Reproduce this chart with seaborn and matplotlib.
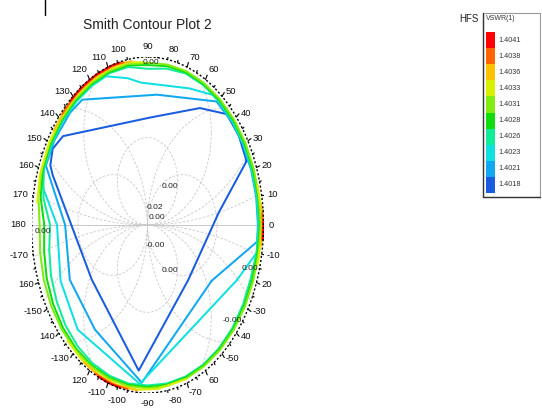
import numpy as np
import pandas as pd
import matplotlib
matplotlib.use("Agg")
import matplotlib.pyplot as plt
from matplotlib.patches import Rectangle
from matplotlib.lines import Line2D
import seaborn as sns

sns.set_theme(style="white")
plt.rcParams["font.family"] = ["Liberation Sans", "DejaVu Sans"]

# ---------------- data ----------------
title = "Smith Contour Plot 2"
legend_title = "VSWR(1)"
brand = "HFS"
level_labels = ["1.4018", "1.4021", "1.4023", "1.4026", "1.4028",
                "1.4031", "1.4033", "1.4036", "1.4038", "1.4041"]
level_colors = ["#1a5ce0", "#10a8f0", "#10e0e0", "#10ec98", "#10dc10",
                "#80ec10", "#d8f000", "#ffc000", "#ff6400", "#ff0000"]

angle_ticks = [0, 10, 20, 30, 40, 50, 60, 70, 80, 90, 100, 110, 120, 130, 140, 150, 160, 170, 180,
               -170, -160, -150, -140, -130, -120, -110, -100, -90, -80, -70, -60, -50, -40, -30, -20, -10]
angle_tick_labels = ["0", "10", "20", "30", "40", "50", "60", "70", "80", "90", "100", "110", "120",
                     "130", "140", "150", "160", "170", "180", "-170", "160", "-150", "140", "-130",
                     "120", "-110", "-100", "-90", "-80", "-70", "60", "-50", "40", "-30", "20", "-10"]

grid_label_text = ["0.00", "0.00", "0.02", "0.00", "-0.00", "0.00", "0.00", "0.00", "-0.00"]
grid_label_re = [0.03, 0.19, 0.065, 0.08, 0.065, 0.19, -0.90, 0.88, 0.73]
grid_label_im = [0.97, 0.23, 0.105, 0.045, -0.12, -0.27, -0.04, -0.26, -0.57]

# contour vertices: angle of reflection coefficient (deg) and magnitude
ring_ang = [0, 10, 20, 30, 40, 50, 60, 70, 80, 90, 100, 110, 120, 130, 140, 150, 160, 170, 180,
            190, 200, 210, 220, 230, 240, 250, 260, 270, 280, 290, 300, 310, 320, 330, 340, 350, 360]

c4018_ang = [24, 34, 44, 57, 88, 144, 151, 157, 160, -146, -95, -43, 7, 24]
c4018_mag = [0.935, 0.95, 0.95, 0.83, 0.64, 0.90, 0.935, 0.91, 0.87, 0.58, 0.87, 0.48, 0.62, 0.935]

c4021_ang = [-31, -6, 0, 10, 20, 30, 40, 51, 84, 127, 135, 148, 158, 180, -154, -126, -93, -31]
c4021_mag = [0.645, 0.95, 0.952, 0.952, 0.952, 0.952, 0.952, 0.946, 0.78, 0.934, 0.945, 0.948,
             0.945, 0.71, 0.745, 0.77, 0.94, 0.645]

c4023_ang = [-23, -10, 0, 10, 20, 30, 40, 50, 54, 66, 94, 101, 112, 120, 130, 140, 150, 160, 166,
             180, -156, -134, -94, -23]
c4023_mag = [0.838, 0.955, 0.957, 0.957, 0.957, 0.957, 0.957, 0.957, 0.957, 0.89, 0.85, 0.89, 0.955,
             0.957, 0.957, 0.957, 0.955, 0.95, 0.93, 0.78, 0.82, 0.866, 0.948, 0.838]

c4026_mag = [0.962, 0.962, 0.96, 0.962, 0.962, 0.962, 0.962, 0.96, 0.945, 0.93, 0.955, 0.962, 0.962,
             0.962, 0.962, 0.96, 0.955, 0.91, 0.84, 0.86, 0.885, 0.905, 0.925, 0.94, 0.95, 0.955,
             0.958, 0.955, 0.958, 0.96, 0.96, 0.958, 0.955, 0.95, 0.945, 0.955, 0.962]
c4028_mag = [0.97, 0.97, 0.968, 0.968, 0.968, 0.968, 0.968, 0.968, 0.96, 0.952, 0.965, 0.968, 0.968,
             0.968, 0.968, 0.966, 0.962, 0.935, 0.89, 0.905, 0.925, 0.94, 0.952, 0.96, 0.964, 0.966,
             0.966, 0.965, 0.966, 0.966, 0.966, 0.965, 0.964, 0.962, 0.96, 0.964, 0.97]
c4031_mag = [0.977, 0.976, 0.975, 0.975, 0.975, 0.975, 0.975, 0.975, 0.97, 0.965, 0.973, 0.975, 0.975,
             0.975, 0.975, 0.974, 0.97, 0.955, 0.93, 0.94, 0.952, 0.96, 0.966, 0.97, 0.972, 0.973,
             0.973, 0.972, 0.973, 0.973, 0.972, 0.972, 0.971, 0.97, 0.97, 0.972, 0.977]

c4033_segs = [([172, 162, 150, 140, 130, 120, 110, 100, 92],
               [0.96, 0.975, 0.98, 0.983, 0.985, 0.985, 0.986, 0.983, 0.97]),
              ([14, 5, 0, -5, -14], [0.978, 0.985, 0.987, 0.985, 0.978]),
              ([-70, -85, -95, -105, -115, -125, -135],
               [0.976, 0.98, 0.984, 0.986, 0.985, 0.982, 0.975])]
c4036_segs = [([145, 135, 125, 115, 105, 98], [0.984, 0.989, 0.99, 0.991, 0.99, 0.985]),
              ([7, 0, -7], [0.988, 0.991, 0.988]),
              ([-95, -105, -115, -124], [0.988, 0.99, 0.99, 0.986])]
c4038_segs = [([138, 128, 118, 108, 102], [0.99, 0.994, 0.995, 0.995, 0.991]),
              ([4, 0, -5], [0.993, 0.995, 0.993]),
              ([-100, -108, -117], [0.992, 0.995, 0.993])]
c4041_segs = [([132, 124, 116, 108, 104], [0.995, 0.998, 0.999, 0.998, 0.996]),
              ([1, -2, -5], [0.997, 0.999, 0.997]),
              ([-104, -110, -115], [0.997, 0.999, 0.997])]

contours = {
    "1.4018": [(c4018_ang, c4018_mag)],
    "1.4021": [(c4021_ang, c4021_mag)],
    "1.4023": [(c4023_ang, c4023_mag)],
    "1.4026": [(ring_ang, c4026_mag)],
    "1.4028": [(ring_ang, c4028_mag)],
    "1.4031": [(ring_ang, c4031_mag)],
    "1.4033": c4033_segs,
    "1.4036": c4036_segs,
    "1.4038": c4038_segs,
    "1.4041": c4041_segs,
}

rows = []
seg_id = 0
for lab in level_labels:
    for ang, mag in contours[lab]:
        a = np.deg2rad(np.asarray(ang, float))
        m = np.asarray(mag, float)
        for k in range(len(a)):
            rows.append({"re": m[k] * np.cos(a[k]), "im": m[k] * np.sin(a[k]),
                         "level": lab, "seg": seg_id, "order": k})
        seg_id += 1
df = pd.DataFrame(rows)

# ---------------- figure ----------------
W, H = 542, 412
fig = plt.figure(figsize=(W / 100, H / 100), dpi=100)
fig.patch.set_facecolor("white")

cx, cy, rx, ry = 147.5, 225.0, 116.0, 168.0
ax = fig.add_axes([(cx - rx) / W, (H - cy - ry) / H, 2 * rx / W, 2 * ry / H])
ax.set_xlim(-1, 1)
ax.set_ylim(-1, 1)
ax.axis("off")

# Smith-style grid (light grey dashed)
t = np.linspace(0, 2 * np.pi, 721)
grid_kw = dict(color="#c8c8c8", lw=0.6, ls=(0, (3, 2)), zorder=1)
for k in [0.26, 0.55, 1.1, 2.6]:
    for s in (1, -1):
        gx = k * np.cos(t)
        gy = s * k + k * np.sin(t)
        msk = gx ** 2 + gy ** 2 > 0.985
        gx = np.where(msk, np.nan, gx)
        gy = np.where(msk, np.nan, gy)
        ax.plot(gx, gy, **grid_kw)
for k in [0.3, 0.7]:
    for s in (1, -1):
        gx = s * k + k * np.cos(t)
        gy = k * np.sin(t)
        msk = gx ** 2 + gy ** 2 > 0.985
        ax.plot(np.where(msk, np.nan, gx), np.where(msk, np.nan, gy), **grid_kw)
ax.plot([-0.985, 0.985], [0, 0], color="#c8c8c8", lw=0.7, zorder=1)

# contours
sns.lineplot(data=df, x="re", y="im", hue="level", units="seg", estimator=None, sort=False,
             hue_order=level_labels, palette=dict(zip(level_labels, level_colors)),
             legend=False, lw=1.45, ax=ax, zorder=3)

# outer border, dotted with ticks
ax.plot(np.cos(t), np.sin(t), color="black", lw=1.0, ls=(0, (1.5, 1.5)), zorder=4)
for a in range(0, 360, 5):
    ar = np.deg2rad(a)
    r1 = 1.03 if a % 10 == 0 else 1.015
    ax.plot([np.cos(ar), r1 * np.cos(ar)], [np.sin(ar), r1 * np.sin(ar)],
            color="black", lw=0.8, zorder=4)

# angle labels
for a, lab in zip(angle_ticks, angle_tick_labels):
    ar = np.deg2rad(a)
    c, s = np.cos(ar), np.sin(ar)
    ha = "left" if c > 0.15 else ("right" if c < -0.15 else "center")
    va = "bottom" if s > 0.8 else ("top" if s < -0.8 else "center")
    ax.text(1.045 * c, 1.035 * s, lab, ha=ha, va=va, fontsize=6.8, color="#111111",
            clip_on=False)

for txt, gx, gy in zip(grid_label_text, grid_label_re, grid_label_im):
    ax.text(gx, gy, txt, ha="center", va="center", fontsize=6.0, color="#222222", zorder=5)

# title
fig.text(cx / W, 1 - 25 / H, title, ha="center", va="center", fontsize=10, color="#222222")

# top-left marker line
fig.add_artist(Line2D([44.5 / W, 44.5 / W], [1.0, 1 - 15 / H], transform=fig.transFigure,
                      color="black", lw=1.0))

# legend panel
lax = fig.add_axes([0, 0, 1, 1], zorder=-1)
lax.set_xlim(0, W)
lax.set_ylim(H, 0)
lax.axis("off")
lax.add_patch(Rectangle((483, 13), 57, 184, fill=False, ec="#9a9a9a", lw=0.8))
lax.plot([483, 483], [13, 197], color="#333333", lw=1.0)
lax.plot([483, 540], [197, 197], color="#333333", lw=1.0)
sw_h = 16.1
for i, (lab, col) in enumerate(zip(level_labels[::-1], level_colors[::-1])):
    y0 = 32 + i * sw_h
    lax.add_patch(Rectangle((485.5, y0), 9, sw_h, color=col, lw=0))
    lax.text(498, y0 + sw_h / 2, lab, ha="left", va="center", fontsize=5.2, color="#333333")
lax.text(486, 18, legend_title, ha="left", va="center", fontsize=5, color="#333333")
lax.text(469, 19, brand, ha="center", va="center", fontsize=7, color="#222222")

fig.savefig("out.png", dpi=100, facecolor="white")
